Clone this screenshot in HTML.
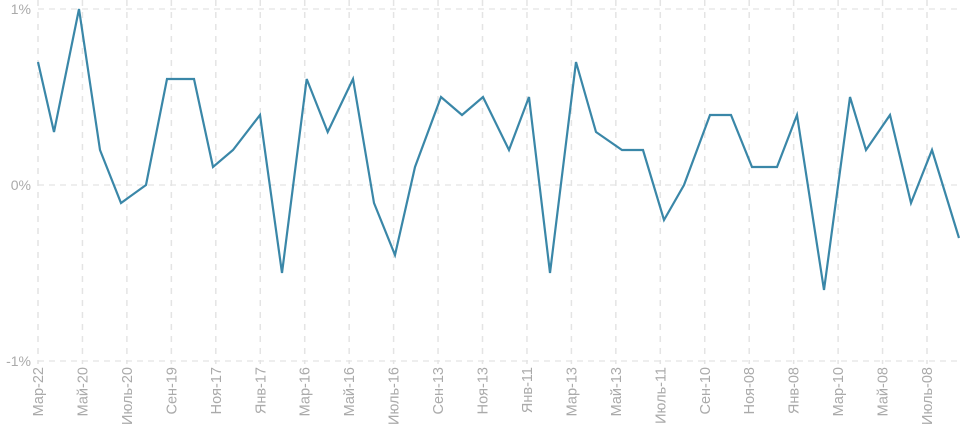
<!DOCTYPE html>
<html><head><meta charset="utf-8"><style>
html,body{margin:0;padding:0;background:#fff;}
svg{display:block;font-family:"Liberation Sans","DejaVu Sans",sans-serif;}
</style></head><body>
<svg width="976" height="432" viewBox="0 0 976 432" xmlns="http://www.w3.org/2000/svg">
<g stroke="#dcdcdc" stroke-width="1" stroke-dasharray="6,5">
<line x1="38" y1="9" x2="958" y2="9"/>
<line x1="38" y1="185" x2="958" y2="185"/>
<line x1="38" y1="361" x2="958" y2="361"/>
</g>
<g stroke="#e4e4e4" stroke-width="1.5" stroke-dasharray="6,6" id="vg"></g>
<g fill="#aaaaaa" font-size="14" text-anchor="end">
<text x="31" y="14">1%</text>
<text x="31" y="190">0%</text>
<text x="31" y="366">-1%</text>
</g>
<g fill="#aaaaaa" font-size="14.5" text-anchor="end" id="xl"></g>
<polyline fill="none" stroke="#3a87a8" stroke-width="2.2" stroke-linejoin="miter" points="38,62 54,132 79,9 100,150 121,203 146,185 167,79 194,79 213,167 233,150 260,115 282,273 306.7,79 327.7,132 353,79 374,203 395,255 415,167 441,97 462,115 483,97 509,150 529,97 550,273 576,62 596,132 622,150 643,150 664,220 684,185 710,115 731,115 752,167 777,167 797,115 824,290 850,97 866,150 890,115 911,203 932,150 959,238"/>
<script>
var labels=["Мар-22","Май-20","Июль-20","Сен-19","Ноя-17","Янв-17","Мар-16","Май-16","Июль-16","Сен-13","Ноя-13","Янв-11","Мар-13","Май-13","Июль-11","Сен-10","Ноя-08","Янв-08","Мар-10","Май-08","Июль-08"];
var vg=document.getElementById('vg'),xl=document.getElementById('xl'),ns="http://www.w3.org/2000/svg";
labels.forEach(function(l,i){var x=38+i*44.45;
var ln=document.createElementNS(ns,'line');ln.setAttribute('x1',x);ln.setAttribute('x2',x);ln.setAttribute('y1',0);ln.setAttribute('y2',364);vg.appendChild(ln);
var t=document.createElementNS(ns,'text');t.setAttribute('transform','translate('+(x+5)+',367) rotate(-90)');t.textContent=l;xl.appendChild(t);});
</script>
</svg>
</body></html>
